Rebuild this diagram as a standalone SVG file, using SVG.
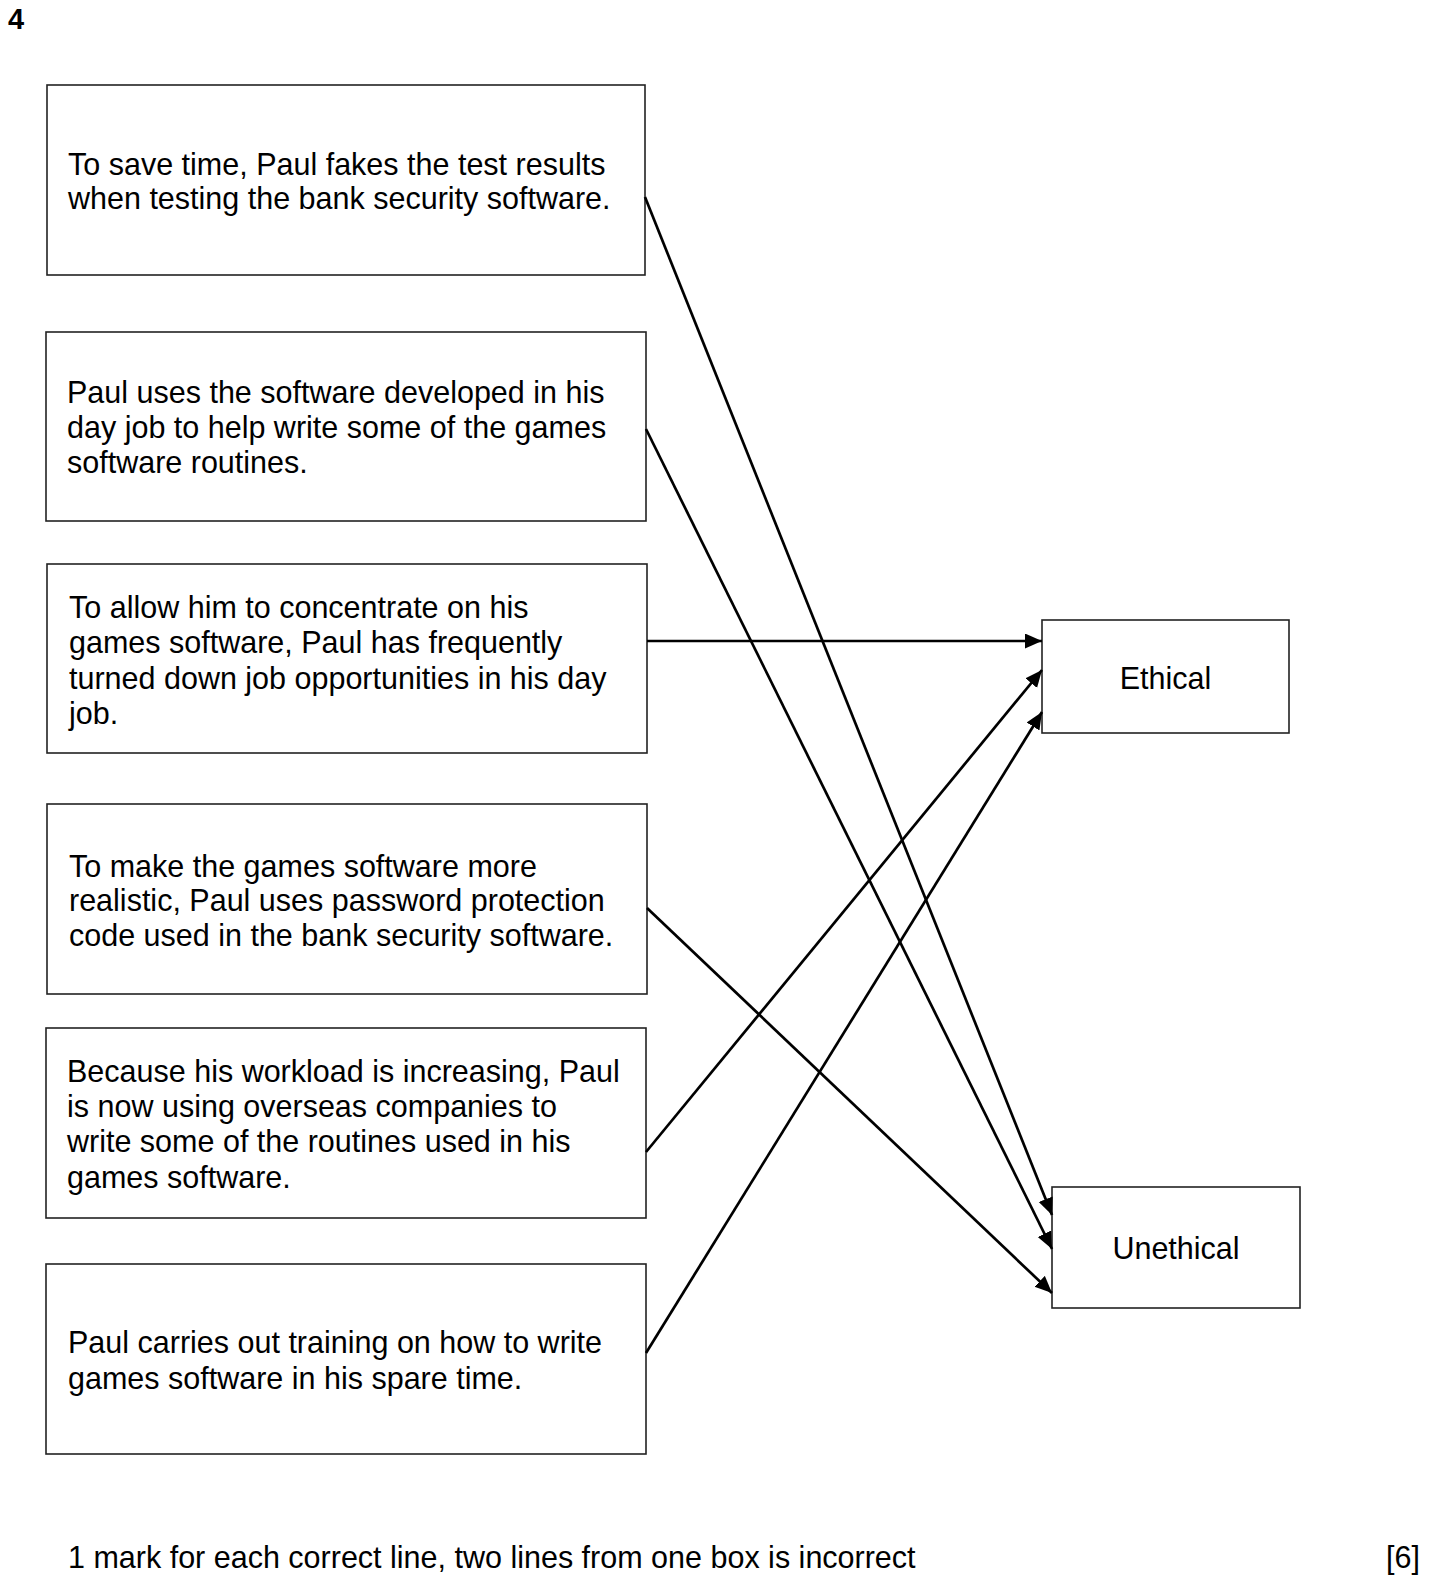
<svg xmlns="http://www.w3.org/2000/svg" width="1430" height="1583" viewBox="0 0 1430 1583">
<style>
.box{fill:#fff;stroke:#222;stroke-width:1.6}
.t{font-family:"Liberation Sans",Arial,sans-serif;font-size:30.5px;fill:#000}
.c{stroke:#000;stroke-width:2.7;fill:none}
</style>
<defs>
<marker id="ah" markerUnits="userSpaceOnUse" markerWidth="22" markerHeight="18" refX="17" refY="7.5" orient="auto">
<path d="M0,0 L17,7.5 L0,15 Z" fill="#000"/>
</marker>
</defs>
<rect width="1430" height="1583" fill="#fff"/>
<text x="8" y="29" class="t" style="font-weight:bold;font-size:29px">4</text>

<g id="box1">
<rect class="box" x="47" y="85" width="598" height="190"/>
<text class="t" x="68" y="175">To save time, Paul fakes the test results</text>
<text class="t" x="68" y="209">when testing the bank security software.</text>
</g>
<g id="box2">
<rect class="box" x="46" y="332" width="600" height="189"/>
<text class="t" x="67" y="403">Paul uses the software developed in his</text>
<text class="t" x="67" y="438">day job to help write some of the games</text>
<text class="t" x="67" y="473">software routines.</text>
</g>
<g id="box3">
<rect class="box" x="47" y="564" width="600" height="189"/>
<text class="t" x="69" y="618">To allow him to concentrate on his</text>
<text class="t" x="69" y="653">games software, Paul has frequently</text>
<text class="t" x="69" y="689">turned down job opportunities in his day</text>
<text class="t" x="69" y="724">job.</text>
</g>
<g id="box4">
<rect class="box" x="47" y="804" width="600" height="190"/>
<text class="t" x="69" y="877">To make the games software more</text>
<text class="t" x="69" y="911">realistic, Paul uses password protection</text>
<text class="t" x="69" y="946">code used in the bank security software.</text>
</g>
<g id="box5">
<rect class="box" x="46" y="1028" width="600" height="190"/>
<text class="t" x="67" y="1082">Because his workload is increasing, Paul</text>
<text class="t" x="67" y="1117">is now using overseas companies to</text>
<text class="t" x="67" y="1152">write some of the routines used in his</text>
<text class="t" x="67" y="1188">games software.</text>
</g>
<g id="box6">
<rect class="box" x="46" y="1264" width="600" height="190"/>
<text class="t" x="68" y="1353">Paul carries out training on how to write</text>
<text class="t" x="68" y="1389">games software in his spare time.</text>
</g>
<g id="ethical">
<rect class="box" x="1042" y="620" width="247" height="113"/>
<text class="t" x="1165.5" y="689" text-anchor="middle">Ethical</text>
</g>
<g id="unethical">
<rect class="box" x="1052" y="1187" width="248" height="121"/>
<text class="t" x="1176" y="1259" text-anchor="middle">Unethical</text>
</g>

<g id="connectors">
<line class="c" x1="645" y1="197" x2="1052" y2="1215" marker-end="url(#ah)"/>
<line class="c" x1="646" y1="429" x2="1052" y2="1249" marker-end="url(#ah)"/>
<line class="c" x1="647" y1="641" x2="1042" y2="641" marker-end="url(#ah)"/>
<line class="c" x1="647" y1="908" x2="1052" y2="1293" marker-end="url(#ah)"/>
<line class="c" x1="646" y1="1152" x2="1042" y2="670" marker-end="url(#ah)"/>
<line class="c" x1="646" y1="1353" x2="1042" y2="712" marker-end="url(#ah)"/>
</g>

<text class="t" x="68" y="1568">1 mark for each correct line, two lines from one box is incorrect</text>
<text class="t" x="1420" y="1568" text-anchor="end">[6]</text>
</svg>
